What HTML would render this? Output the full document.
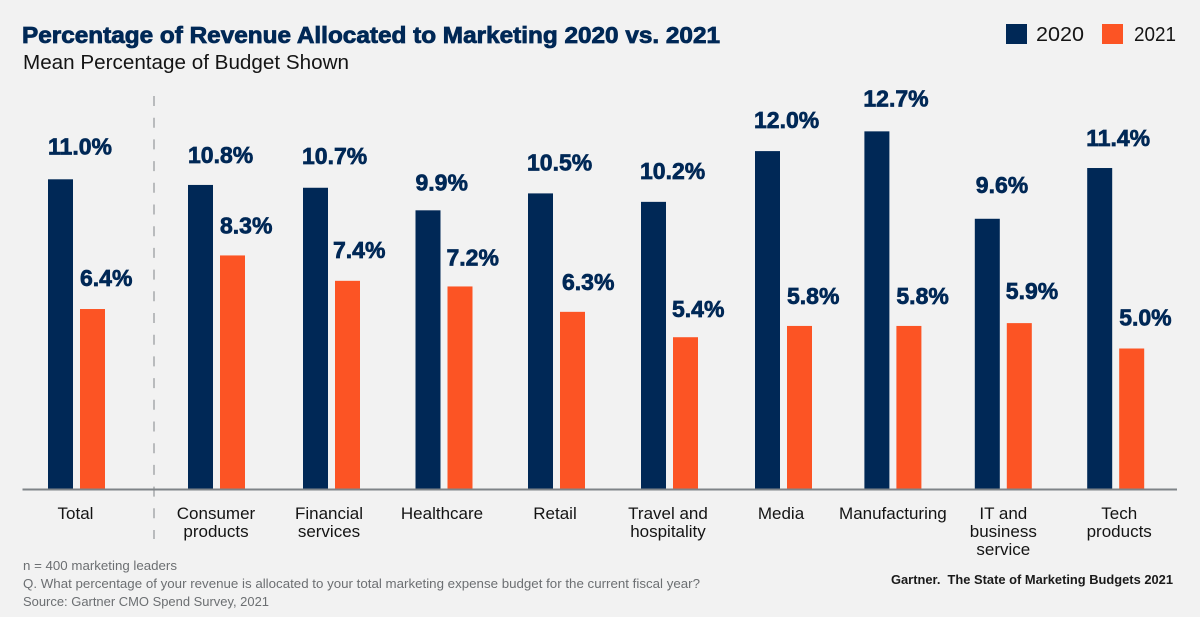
<!DOCTYPE html>
<html lang="en">
<head>
<meta charset="utf-8">
<title>Percentage of Revenue Allocated to Marketing 2020 vs. 2021</title>
<style>
html,body{margin:0;padding:0;background:#f2f2f2;}
body{width:1200px;height:617px;overflow:hidden;}
svg{display:block;font-family:"Liberation Sans",sans-serif;}
</style>
</head>
<body>
<svg id="chart" width="1200" height="617" viewBox="0 0 1200 617" xmlns="http://www.w3.org/2000/svg">
  <rect x="0" y="0" width="1200" height="617" fill="#f2f2f2"/>
  <text x="22" y="43" font-size="23" font-weight="700" fill="#002856" stroke="#002856" stroke-width="0.8" textLength="698" lengthAdjust="spacingAndGlyphs">Percentage of Revenue Allocated to Marketing 2020 vs. 2021</text>
  <text x="23" y="69" font-size="20" fill="#141414" textLength="326" lengthAdjust="spacingAndGlyphs">Mean Percentage of Budget Shown</text>

  <g>
    <rect x="1006" y="24" width="21" height="20" fill="#002856"/>
    <text x="1036" y="41" font-size="20" fill="#141414" textLength="48" lengthAdjust="spacingAndGlyphs">2020</text>
    <rect x="1102" y="24" width="21" height="20" fill="#fc5424"/>
    <text x="1134" y="41" font-size="20" fill="#141414" textLength="42" lengthAdjust="spacingAndGlyphs">2021</text>
  </g>

  <line x1="154" y1="96" x2="154" y2="539" stroke="#b9bbbd" stroke-width="2" stroke-dasharray="10 11.7"/>

  <g id="bars"></g>
  <line x1="22.5" y1="489.5" x2="1177" y2="489.5" stroke="#7f8488" stroke-width="2"/>
  <g id="value-labels"></g>
  <g id="category-labels"></g>

  <g font-size="12.5" fill="#6c6f72">
    <text x="23" y="570" textLength="154" lengthAdjust="spacingAndGlyphs">n = 400 marketing leaders</text>
    <text x="23" y="588" textLength="677" lengthAdjust="spacingAndGlyphs">Q. What percentage of your revenue is allocated to your total marketing expense budget for the current fiscal year?</text>
    <text x="23" y="606" textLength="246" lengthAdjust="spacingAndGlyphs">Source: Gartner CMO Spend Survey, 2021</text>
  </g>
  <text x="891" y="584" font-size="12.5" font-weight="700" fill="#1a1a1a" xml:space="preserve" style="white-space:pre" textLength="282" lengthAdjust="spacingAndGlyphs">Gartner.  The State of Marketing Budgets 2021</text>
</svg>
<script>
// Chart data
const categories = [["Total"],["Consumer","products"],["Financial","services"],["Healthcare"],["Retail"],["Travel and","hospitality"],["Media"],["Manufacturing"],["IT and","business","service"],["Tech","products"]];
const values2020 = [11.0,10.8,10.7,9.9,10.5,10.2,12.0,12.7,9.6,11.4];
const values2021 = [6.4,8.3,7.4,7.2,6.3,5.4,5.8,5.8,5.9,5.0];

// Layout (not data): hand-measured placement tweaks around a regular band scale
const SVG_NS = "http://www.w3.org/2000/svg";
const baseline = 489.5, pxPerPercent = 28.2, barWidth = 25;
const slotNudge = [0,0,2.6,2.7,2.8,3.4,5,2,0,0];
const labelNudge = [-1,-0.5,-2.5,-2,-1.5,-1.5,-2.5,0,0,3.5];
const navyLabelShift = [0,0,-1,0,-1,-1,-1,-1,1,-1];
const orangeLabelShift = [0,0,-2,-1,2,-1,0,0,-1,0];
const navyLabelLift = [-2,1,-1,3,0,0,0,-2,-3,1];
const orangeLabelLift = [0,1,0,2,1,3,1,1,-1,0];

function y(v){ return baseline - v * pxPerPercent; }
function groupCenter(i){
  const base = i === 0 ? 76.5 : 216.5 + (i - 1) * 112.4;
  return base + slotNudge[i];
}
function slug(s){ return s.toLowerCase().replace(/[^a-z0-9]+/g,"-"); }
function fmt(v){ return v.toFixed(1) + "%"; }

const barsG = document.getElementById("bars");
const valuesG = document.getElementById("value-labels");
const catsG = document.getElementById("category-labels");

function addBar(i, v, left, color, year, shift, lift){
  const key = slug(categories[i].join(" "));
  const r = document.createElementNS(SVG_NS,"rect");
  r.setAttribute("x", left);
  r.setAttribute("y", y(v));
  r.setAttribute("width", barWidth);
  r.setAttribute("height", baseline - y(v));
  r.setAttribute("fill", color);
  
  
  barsG.appendChild(r);
  const t = document.createElementNS(SVG_NS,"text");
  t.setAttribute("x", left + shift);
  t.setAttribute("y", y(v) - 23 + lift);
  t.setAttribute("font-size", "23");
  t.setAttribute("font-weight", "700");
  t.setAttribute("fill", "#002856");
  t.setAttribute("stroke", "#002856");
  t.setAttribute("stroke-width", "0.7");
  t.textContent = fmt(v);
  
  
  valuesG.appendChild(t);
}

categories.forEach(function(lines, i){
  const c = groupCenter(i);
  addBar(i, values2020[i], c - 28.5, "#002856", "2020", navyLabelShift[i], navyLabelLift[i]);
  addBar(i, values2021[i], c + 3.5, "#fc5424", "2021", orangeLabelShift[i], orangeLabelLift[i]);
  const t = document.createElementNS(SVG_NS,"text");
  t.setAttribute("text-anchor", "middle");
  t.setAttribute("font-size", "17");
  t.setAttribute("fill", "#141414");
  
  
  lines.forEach(function(line, k){
    const s = document.createElementNS(SVG_NS,"tspan");
    s.setAttribute("x", c + labelNudge[i]);
    s.setAttribute("y", 519 + k * 18);
    s.textContent = line;
    t.appendChild(s);
  });
  catsG.appendChild(t);
});
</script>
</body>
</html>
